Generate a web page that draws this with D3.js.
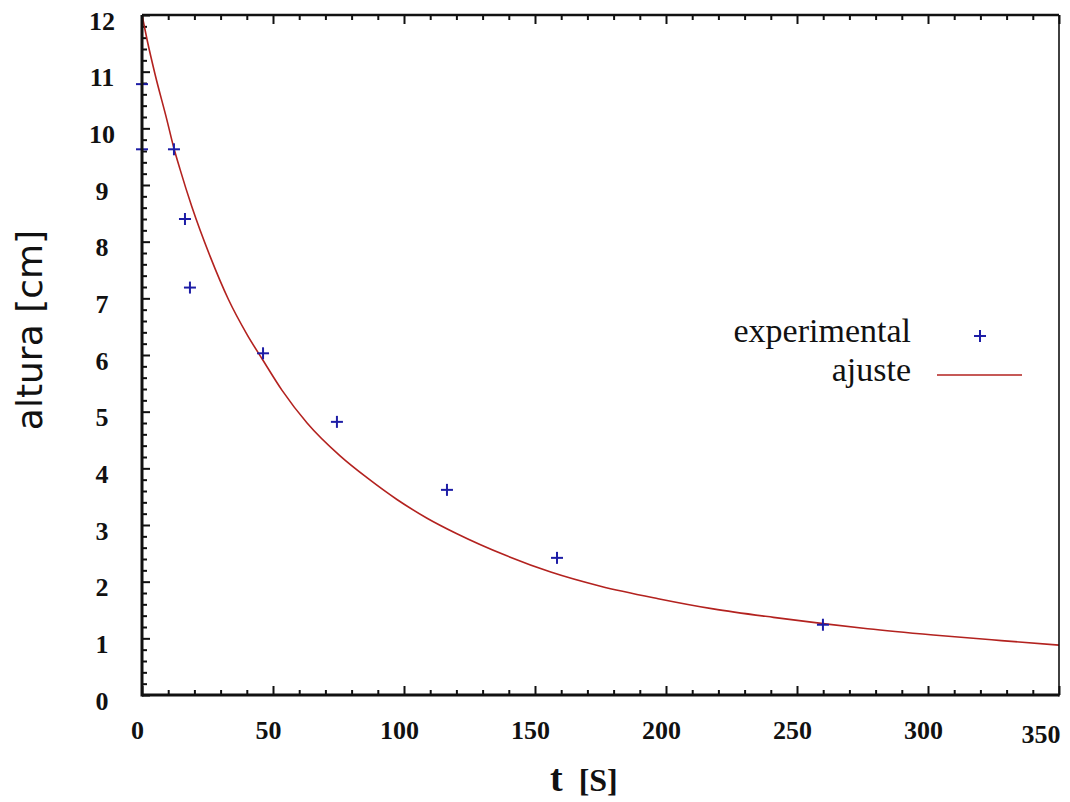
<!DOCTYPE html>
<html>
    <head>
        <meta charset="utf-8">
        <style>
            body {
                margin: 0;
                background: #fff;
            }
            .tick-label {
                font-family: "Liberation Serif", "Times New Roman", serif;
                font-weight: bold;
                font-size: 26px;
                fill: #111;
            }
            .legend-text {
                font-family: "Liberation Serif", "Times New Roman", serif;
                font-size: 34px;
                fill: #111;
            }
            .fit-path {
                fill: none;
                stroke: #b3221f;
                stroke-width: 1.6;
            }
            .point {
                stroke: #1d1da6;
                stroke-width: 2;
            }
        </style>
    </head>
    <body>
        <script src="https://d3js.org/d3.v7.min.js"></script>

        <script>
            // experimental points
            const tExp = [0, 0, 12.2, 16.4, 18.3, 46.2, 74.4, 116.4, 158.4, 259.9];
            const hExp = [10.78, 9.63, 9.63, 8.40, 7.19, 6.03, 4.82, 3.62, 2.42, 1.24];

            // fitted curve
            const tFit = [0, 2, 5, 9.5, 12, 14.5, 19, 26, 33, 40, 46, 53.4, 63, 75.6, 86, 97.3, 108.8, 120, 139, 156, 175, 197, 218, 241, 260, 277, 302, 328, 350];
            const hFit = [12.0, 11.55, 10.95, 10.15, 9.68, 9.28, 8.62, 7.74, 6.98, 6.37, 5.92, 5.38, 4.80, 4.22, 3.83, 3.45, 3.12, 2.85, 2.46, 2.17, 1.92, 1.70, 1.52, 1.37, 1.26, 1.17, 1.06, 0.96, 0.88];

            const xTicks = [0, 50, 100, 150, 200, 250, 300, 350];
            const yTicks = [0, 1, 2, 3, 4, 5, 6, 7, 8, 9, 10, 11, 12];
            const legendLabels = ["experimental", "ajuste"];

            const width = 1070;
            const height = 802;
            const margin = ({top: 15, right: 11, bottom: 107, left: 142});

            const svg = d3.select("body").append("svg")
                .attr("width", width)
                .attr("height", height);

            const xScale = d3.scaleLinear()
                .domain([0, 350])
                .range([margin.left, width - margin.right]);

            const yScale = d3.scaleLinear()
                .domain([0, 12])
                .range([height - margin.bottom, margin.top]);

            const x0 = xScale.range()[0], x1 = xScale.range()[1];
            const y0 = yScale.range()[0], y1 = yScale.range()[1];

            // minor ticks
            const xMinor = d3.range(0, 351, 10).filter(v => v % 50 !== 0);
            const yMinor = d3.range(0, 12.01, 0.2).map(v => +v.toFixed(1)).filter(v => Math.abs(v - Math.round(v)) > 0.01);

            const minorBottom = svg.append("g")
                .attr("transform", "translate(0," + y0 + ")")
                .call(d3.axisBottom(xScale).tickValues(xMinor).tickSize(-5).tickSizeOuter(0).tickFormat(""));
            const minorTop = svg.append("g")
                .attr("transform", "translate(0," + y1 + ")")
                .call(d3.axisTop(xScale).tickValues(xMinor).tickSize(-5).tickSizeOuter(0).tickFormat(""));
            const minorLeft = svg.append("g")
                .attr("transform", "translate(" + x0 + ",0)")
                .call(d3.axisLeft(yScale).tickValues(yMinor).tickSize(-5).tickSizeOuter(0).tickFormat(""));

            // major ticks
            const topAxis = svg.append("g")
                .attr("transform", "translate(0," + y1 + ")")
                .call(d3.axisTop(xScale).tickValues(xTicks).tickSize(-9).tickSizeOuter(0).tickFormat(""));

            const bottomAxis = svg.append("g")
                .attr("transform", "translate(0," + y0 + ")")
                .call(d3.axisBottom(xScale).tickValues(xTicks).tickSize(-9).tickSizeOuter(0).tickPadding(26));

            const leftAxis = svg.append("g")
                .attr("transform", "translate(" + x0 + ",0)")
                .call(d3.axisLeft(yScale).tickValues(yTicks).tickSize(-8).tickSizeOuter(0).tickPadding(40));

            [minorBottom, minorTop, minorLeft, topAxis, bottomAxis, leftAxis].forEach(g => {
                g.select(".domain").remove();
                g.selectAll(".tick line").attr("stroke", "#111").attr("stroke-width", 2);
            });

            bottomAxis.selectAll(".tick text")
                .attr("class", "tick-label")
                .attr("font-family", null).attr("font-size", null)
                .attr("x", -5)
                .attr("dy", "0.71em");
            bottomAxis.selectAll(".tick text")
                .filter(d => d === 350)
                .attr("text-anchor", "end")
                .attr("x", 1)
                .attr("y", 30);

            leftAxis.selectAll(".tick text")
                .attr("class", "tick-label")
                .attr("font-family", null).attr("font-size", null)
                .attr("text-anchor", "middle")
                .attr("dy", "0.55em");

            // curve
            const line = d3.line()
                .x(i => xScale(tFit[i]))
                .y(i => yScale(hFit[i]))
                .curve(d3.curveMonotoneX);

            svg.append("path")
                .attr("class", "fit-path")
                .attr("d", line(d3.range(tFit.length)));

            // points
            const plus = (g, cx, cy) => {
                g.append("line").attr("class", "point")
                    .attr("x1", cx - 6).attr("x2", cx + 6).attr("y1", cy).attr("y2", cy);
                g.append("line").attr("class", "point")
                    .attr("x1", cx).attr("x2", cx).attr("y1", cy - 6).attr("y2", cy + 6);
            };
            const pointGroup = svg.append("g");
            tExp.forEach((t, i) => plus(pointGroup, xScale(t), yScale(hExp[i])));

            // frame
            svg.append("line")
                .attr("x1", x0).attr("x2", x1).attr("y1", y0).attr("y2", y0)
                .attr("stroke", "#111").attr("stroke-width", 3);
            svg.append("line")
                .attr("x1", x0).attr("x2", x0).attr("y1", y0 + 1.5).attr("y2", y1)
                .attr("stroke", "#111").attr("stroke-width", 3);
            svg.append("line")
                .attr("x1", x0).attr("x2", x1).attr("y1", y1).attr("y2", y1)
                .attr("stroke", "#111").attr("stroke-width", 2.5);
            svg.append("line")
                .attr("x1", x1).attr("x2", x1).attr("y1", y0 + 1.5).attr("y2", y1)
                .attr("stroke", "#111").attr("stroke-width", 1.6);

            // legend
            const legend = svg.append("g");
            legend.append("text")
                .attr("class", "legend-text")
                .attr("x", 911).attr("y", 342)
                .attr("text-anchor", "end")
                .text(legendLabels[0]);
            plus(legend, 980, 336);
            legend.append("text")
                .attr("class", "legend-text")
                .attr("x", 911).attr("y", 381)
                .attr("text-anchor", "end")
                .text(legendLabels[1]);
            legend.append("line")
                .attr("class", "fit-path")
                .attr("x1", 937).attr("x2", 1022).attr("y1", 375).attr("y2", 375);

            // axis titles
            svg.append("text")
                .attr("transform", "translate(42,330) rotate(-90)")
                .attr("text-anchor", "middle")
                .attr("font-family", "DejaVu Sans, sans-serif")
                .attr("font-size", 36)
                .attr("fill", "#111")
                .text("altura [cm]");

            const xTitle = svg.append("text")
                .attr("x", 550).attr("y", 791)
                .attr("font-family", "Liberation Serif, serif")
                .attr("font-weight", "bold")
                .attr("fill", "#111");
            xTitle.append("tspan").attr("font-size", 38).text("t");
            xTitle.append("tspan").attr("font-size", 32).attr("dx", 16).text("[S]");
        </script>
    </body>
</html>
